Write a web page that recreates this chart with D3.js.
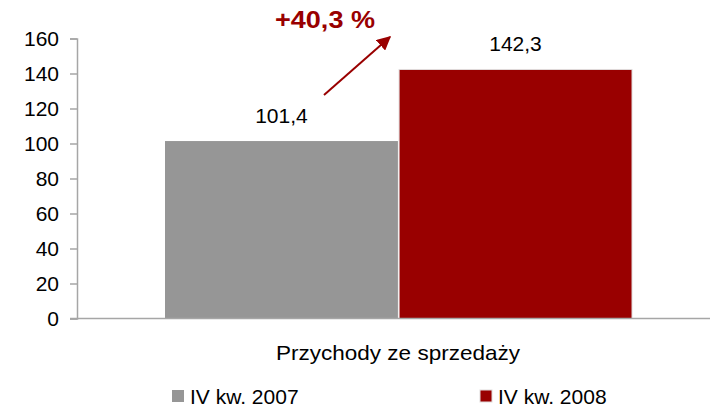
<!DOCTYPE html>
<html><head><meta charset="utf-8">
<script src="https://cdn.jsdelivr.net/npm/d3@7"></script>
<style>body{margin:0;background:#fff}svg{display:block;font-family:"Liberation Sans",Arial,sans-serif}</style>
</head><body><svg id="c" width="711" height="408"></svg>
<script>
const categories = ["Przychody ze sprzedaży"];
const seriesNames = ["IV kw. 2007", "IV kw. 2008"];
const seriesValues = [101.4, 142.3];
const seriesColors = ["#969696", "#990000"];
const yTicks = [0, 20, 40, 60, 80, 100, 120, 140, 160];
const changeLabel = "+40,3 %";

const svg = d3.select("#c");
const y = d3.scaleLinear().domain([0, 160]).range([318.5, 38.5]);
const x = d3.scaleBand().domain(seriesNames).range([165, 632]).paddingInner(0.005);

// bars
svg.selectAll("rect.bar").data(seriesValues).join("rect")
  .attr("x", (d, i) => x(seriesNames[i]))
  .attr("y", d => y(d))
  .attr("width", x.bandwidth())
  .attr("height", d => y(0) - y(d))
  .attr("fill", (d, i) => seriesColors[i])
  .attr("stroke", (d, i) => i === 1 ? "#e0dcdc" : "none")
  .attr("stroke-width", 1);

// y axis
const yAxis = d3.axisLeft(y).tickValues(yTicks).tickSize(7).tickPadding(11).tickFormat(d3.format("d"));
const ga = svg.append("g").attr("transform", "translate(77,0)").call(yAxis);
ga.select(".domain").attr("stroke", "#a6a6a6").attr("stroke-width", 1.5);
ga.selectAll(".tick line").attr("stroke", "#a6a6a6").attr("stroke-width", 1.5);
ga.selectAll(".tick text").attr("font-size", 21).attr("fill", "#000").attr("font-family", "Liberation Sans, Arial, sans-serif");

// x axis line
svg.append("line").attr("x1", 70).attr("x2", 710).attr("y1", y(0)).attr("y2", y(0))
  .attr("stroke", "#a6a6a6").attr("stroke-width", 1.5);

// value labels
svg.selectAll("text.val").data(seriesValues).join("text")
  .attr("x", (d, i) => x(seriesNames[i]) + x.bandwidth() / 2)
  .attr("y", d => y(d) - 18)
  .attr("text-anchor", "middle").attr("font-size", 21).attr("fill", "#000")
  .text(d => d3.format(".1f")(d).replace(".", ","));

// category label
svg.append("text").attr("x", 276).attr("y", 360)
  .attr("font-size", 21).attr("fill", "#000")
  .attr("textLength", 244).attr("lengthAdjust", "spacingAndGlyphs").text(categories[0]);

// arrow + change label
svg.append("defs").append("marker").attr("id", "ah").attr("viewBox", "0 0 10 10")
  .attr("refX", 9).attr("refY", 5).attr("markerWidth", 7).attr("markerHeight", 7)
  .attr("markerUnits", "strokeWidth").attr("orient", "auto")
  .append("path").attr("d", "M0,0 L10,5 L0,10 z").attr("fill", "#990000");
svg.append("line").attr("x1", 324).attr("y1", 95).attr("x2", 390).attr("y2", 37)
  .attr("stroke", "#990000").attr("stroke-width", 2).attr("marker-end", "url(#ah)");
svg.append("text").attr("x", 275).attr("y", 28).attr("font-size", 23).attr("font-weight", "bold")
  .attr("fill", "#990000").attr("textLength", 100).attr("lengthAdjust", "spacingAndGlyphs").text(changeLabel);

// legend
const legX = [172, 480];
const lg = svg.selectAll("g.leg").data(seriesNames).join("g").attr("transform", (d, i) => `translate(${legX[i]},390)`);
lg.append("rect").attr("width", 12).attr("height", 12).attr("fill", (d, i) => seriesColors[i])
  .attr("stroke", (d, i) => i === 1 ? "#e0dcdc" : "none");
lg.append("text").attr("x", 18).attr("y", 14).attr("font-size", 21).attr("fill", "#000").text(d => d);
</script></body></html>
